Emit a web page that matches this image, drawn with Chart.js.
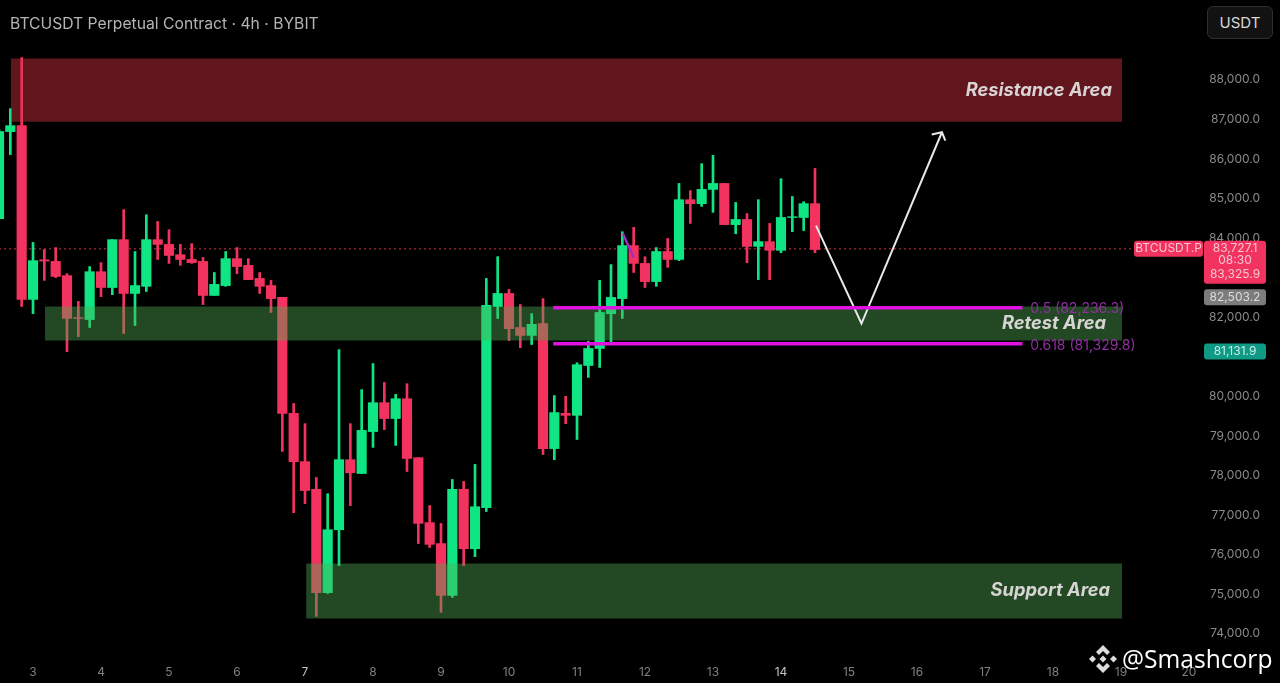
<!DOCTYPE html>
<html>
<head>
<meta charset="utf-8">
<title>BTCUSDT 4h</title>
<script src="https://cdn.jsdelivr.net/npm/chart.js"></script>
<style>
    html, body { margin: 0; padding: 0; background: #000; overflow: hidden; }
    #wrap { position: relative; width: 1280px; height: 683px; background: #000; font-family: Inter, sans-serif; }
    #header { position: absolute; left: 10px; top: 14px; color: #b4b4b4; font-size: 15.7px; line-height: 20px; white-space: nowrap; }
    #unit { position: absolute; left: 1207px; top: 6px; width: 66px; height: 33px; box-sizing: border-box; border: 1px solid #2e2e2e; border-radius: 6px; background: #121212; color: #d8d8d8; font-size: 15px; line-height: 31px; text-align: center; }
    #mark { position: absolute; left: 1122px; top: 642px; color: #fff; font-family: "Open Sans", sans-serif; font-size: 24.6px; line-height: 34px; white-space: nowrap; }
    #logo { position: absolute; left: 1089px; top: 645px; }
</style>
</head>
<body>
<div id="wrap">
    <canvas id="chart" width="1280" height="683"></canvas>
    <div id="header">BTCUSDT Perpetual Contract · 4h · BYBIT</div>
    <div id="unit">USDT</div>
    <svg id="logo" width="28" height="28" viewBox="0 0 28 28" fill="#dcdcdc">
        <polygon points="14,0 21,7 18,10 14,6 10,10 7,7"/>
        <polygon points="14,28 21,21 18,18 14,22 10,18 7,21"/>
        <polygon points="3.5,10.5 7,14 3.5,17.5 0,14"/>
        <polygon points="24.5,10.5 28,14 24.5,17.5 21,14"/>
        <polygon points="14,10.5 17.5,14 14,17.5 10.5,14"/>
    </svg>
    <div id="mark">@Smashcorp</div>
</div>
<script>
// 4h candles, first one sits three slots left of the "3" day tick (6 slots = 1 day)
const firstSlot = -3;
const opens = [84490, 86690, 86840, 82450, 83450, 83410, 83050, 81990, 81940, 83150, 82750, 83960, 82600, 82780, 83960, 83840, 83580, 83460, 83410, 82550, 82800, 83480, 83310, 82980, 82800, 82500, 79570, 78350, 77650, 75040, 76630, 78400, 78050, 79110, 79840, 79440, 79940, 78450, 76810, 76280, 74970, 77650, 76150, 77190, 82270, 82600, 81740, 81540, 81840, 78680, 79570, 79520, 80780, 81210, 82090, 82470, 83810, 83360, 82900, 83660, 83460, 84970, 84870, 85230, 85380, 84340, 84470, 83790, 83910, 83690, 84520, 84520, 84870];
const highs = [86740, 87270, 88560, 83890, 83710, 83760, 83100, 82400, 83280, 83380, 83960, 84720, 83660, 84590, 84420, 84210, 83840, 83860, 83510, 83130, 83660, 83760, 83480, 83130, 82930, 82500, 79820, 79310, 77950, 77540, 81180, 79310, 80170, 80830, 80350, 80050, 80320, 78450, 77240, 76790, 77900, 77850, 78280, 82980, 83530, 82700, 82320, 82090, 82470, 80020, 80000, 80850, 81390, 82930, 83330, 84160, 84270, 83530, 83760, 83990, 85380, 85200, 85880, 86090, 85380, 84900, 84620, 84970, 84370, 85500, 85050, 84920, 85760];
const lows = [84490, 86110, 82270, 82090, 82930, 83000, 81130, 81510, 81740, 82520, 82570, 81590, 81790, 82650, 83460, 83360, 83310, 83360, 82320, 82550, 82780, 83100, 82950, 82600, 82120, 78610, 77060, 77290, 74440, 75020, 75720, 77240, 78050, 78710, 79160, 78760, 78100, 76280, 76180, 74540, 74920, 75720, 75950, 77090, 81970, 81410, 81230, 81310, 78530, 78400, 79310, 78910, 80480, 80730, 81360, 81970, 83130, 82750, 82780, 83260, 83430, 84370, 84800, 84650, 84340, 84110, 83380, 82950, 82950, 83630, 84160, 84190, 83630];
const closes = [86690, 86840, 82450, 83430, 83420, 83030, 81970, 81970, 83150, 82750, 83960, 82600, 82800, 83960, 83840, 83560, 83460, 83380, 82550, 82830, 83480, 83280, 82950, 82780, 82470, 79570, 78350, 77620, 75040, 76630, 78400, 78070, 79140, 79840, 79440, 79940, 78430, 76790, 76260, 74970, 77650, 76150, 77210, 82300, 82600, 81710, 81540, 81820, 78680, 79590, 79520, 80800, 81210, 82120, 82500, 83810, 83360, 82900, 83660, 83460, 84970, 84870, 85230, 85380, 84340, 84470, 83790, 83910, 83690, 84520, 84540, 84870, 83710];

// Day ticks along the bottom, only 3..20 carry a label
const dayLabels = ['3', '4', '5', '6', '7', '8', '9', '10', '11', '12', '13', '14', '15', '16', '17', '18', '19', '20'];
const daySlots = [0, 6, 12, 18, 24, 30, 36, 42, 48, 54, 60, 66, 72, 78, 84, 90, 96, 102];
const boldDays = ['7', '14'];

// Right axis, 83,000 and 81,000 are hidden behind the price tags
const priceTicks = [88000, 87000, 86000, 85000, 84000, 82000, 80000, 79000, 78000, 77000, 76000, 75000, 74000];

// Zones: [first slot, last slot, top price, bottom price]
const resistanceZone = [-1.94, 96.1, 88540, 86940];
const retestZone = [1.06, 96.1, 82270, 81410];
const supportZone = [24.1, 96.1, 75775, 74385];

// Fibonacci levels and drawn lines
const fibLevels = [82236.3, 81329.8];
const fibSlots = [45.9, 87.3];
const lastPrice = 83727.1;
const priceLineSlots = [-3, 97.2];
const pathSlots = [69.09, 73.1, 80.2];
const pathPrices = [84316, 81840, 86674];
const headSlots = [79.3, 80.2, 80.5];
const headPrices = [86616, 86674, 86464];
const trendSlots = [52.04, 53.0];
const trendPrices = [84115, 83507];

const slots = opens.map((_, i) => i + firstSlot);
const up = '#0fe583';
const down = '#f2325f';
const candleColor = opens.map((o, i) => closes[i] >= o ? up : down);

function points(xs, ys) {
    return xs.map((x, i) => ({ x: x, y: ys[i] }));
}

function zoneDataset(zone, color) {
    return {
        type: 'line',
        data: points([zone[0], zone[1]], [zone[2], zone[2]]),
        borderWidth: 0,
        pointRadius: 0,
        backgroundColor: color,
        fill: { target: { value: zone[3] } },
        order: 1
    };
}

function lineDataset(data, color, width, order, dash) {
    return {
        type: 'line',
        data: data,
        borderColor: color,
        borderWidth: width,
        borderDash: dash || [],
        pointRadius: 0,
        fill: false,
        tension: 0,
        order: order
    };
}

const zoneRed = 'rgba(225, 50, 70, 0.43)';
const zoneGreen = 'rgba(80, 172, 84, 0.425)';

// Text and tags that sit on top of the chart
const overlay = {
    id: 'overlay',
    afterDraw(chart) {
        const ctx = chart.ctx;
        const y = chart.scales.y;
        const x = chart.scales.x;
        ctx.save();
        ctx.textBaseline = 'middle';

        // zone titles
        ctx.font = 'italic bold 18.3px Inter';
        ctx.textAlign = 'right';
        ctx.fillStyle = '#d9d4d4';
        ctx.fillText('Resistance Area', x.getPixelForValue(95.2), y.getPixelForValue(87740));
        ctx.fillText('Retest Area', x.getPixelForValue(94.68), y.getPixelForValue(81850));
        ctx.fillText('Support Area', x.getPixelForValue(95.03), y.getPixelForValue(75090));

        // fib labels
        ctx.font = '14px Inter';
        ctx.textAlign = 'left';
        ctx.fillStyle = '#8e2fa0';
        ctx.fillText('0.5 (82,236.3)', x.getPixelForValue(88), y.getPixelForValue(fibLevels[0]) + 1);
        ctx.fillText('0.618 (81,329.8)', x.getPixelForValue(88), y.getPixelForValue(fibLevels[1]) + 2);

        // price tags
        ctx.font = '12px Inter';
        ctx.textAlign = 'center';
        const tag = (left, top, w, h, color) => {
            ctx.fillStyle = color;
            ctx.beginPath();
            ctx.roundRect(left, top, w, h, 3);
            ctx.fill();
        };
        const lastY = y.getPixelForValue(lastPrice);
        tag(1134, lastY - 8, 69, 16, '#f2325f');
        tag(1204, lastY - 8, 62, 43, '#f2325f');
        tag(1204, y.getPixelForValue(82503.2) - 8, 62, 16, '#7c7c7c');
        tag(1204, y.getPixelForValue(81131.9) - 8, 62, 16, '#0f9a85');

        ctx.fillStyle = '#f7c6d0';
        ctx.fillText('BTCUSDT.P', 1168.5, lastY);
        ctx.fillText('83,727.1', 1235, lastY);
        ctx.fillText('08:30', 1235, lastY + 12);
        ctx.fillText('83,325.9', 1235, lastY + 26);
        ctx.fillStyle = '#dcdcdc';
        ctx.fillText('82,503.2', 1235, y.getPixelForValue(82503.2));
        ctx.fillStyle = '#c8ece5';
        ctx.fillText('81,131.9', 1235, y.getPixelForValue(81131.9));
        ctx.restore();
    }
};

new Chart(document.getElementById('chart'), {
    type: 'bar',
    data: {
        datasets: [
            // wicks
            {
                data: slots.map((s, i) => ({ x: s, y: [lows[i], highs[i]] })),
                backgroundColor: candleColor,
                barThickness: 2,
                grouped: false,
                order: 3
            },
            // bodies
            {
                data: slots.map((s, i) => ({ x: s, y: [opens[i], closes[i]] })),
                backgroundColor: candleColor,
                barThickness: 9.5,
                grouped: false,
                order: 2
            },
            zoneDataset(resistanceZone, zoneRed),
            zoneDataset(retestZone, zoneGreen),
            zoneDataset(supportZone, zoneGreen),
            lineDataset(points(priceLineSlots, [lastPrice, lastPrice]), '#c8394a', 1, 4, [2, 3]),
            lineDataset(points(fibSlots, [fibLevels[0], fibLevels[0]]), '#e012e0', 3.5, 0),
            lineDataset(points(fibSlots, [fibLevels[1], fibLevels[1]]), '#e012e0', 3.5, 0),
            lineDataset(points(trendSlots, trendPrices), '#a32cc0', 2.5, 0),
            lineDataset(points(pathSlots, pathPrices), '#e8e8e8', 2, 0),
            lineDataset(points(headSlots, headPrices), '#e8e8e8', 2, 0)
        ]
    },
    options: {
        responsive: false,
        animation: false,
        events: [],
        layout: { padding: 0, autoPadding: false },
        plugins: { legend: { display: false }, tooltip: { enabled: false }, title: { display: false } },
        scales: {
            x: {
                type: 'linear',
                offset: false,
                min: -2.912,
                max: 110.03,
                grid: { display: false, drawTicks: false },
                border: { display: false },
                afterBuildTicks: scale => { scale.ticks = daySlots.map(v => ({ value: v })); },
                afterFit: scale => { scale.height = 28; },
                ticks: {
                    autoSkip: false,
                    maxRotation: 0,
                    padding: 10,
                    color: ctx => boldDays.includes(dayLabels[ctx.index]) ? '#c4c4c4' : '#808080',
                    font: { family: 'Inter', size: 12 },
                    callback: (value, index) => dayLabels[index]
                }
            },
            y: {
                position: 'right',
                min: 73464,
                max: 90016,
                grid: { display: false, drawTicks: false },
                border: { display: false },
                afterBuildTicks: scale => { scale.ticks = priceTicks.map(v => ({ value: v })); },
                afterFit: scale => { scale.width = 0; },
                ticks: {
                    mirror: true,
                    padding: -20,
                    color: '#8a8a8a',
                    font: { family: 'Inter', size: 12 },
                    callback: value => value.toLocaleString('en-US', { minimumFractionDigits: 1 })
                }
            }
        }
    },
    plugins: [overlay]
});
</script>
</body>
</html>
